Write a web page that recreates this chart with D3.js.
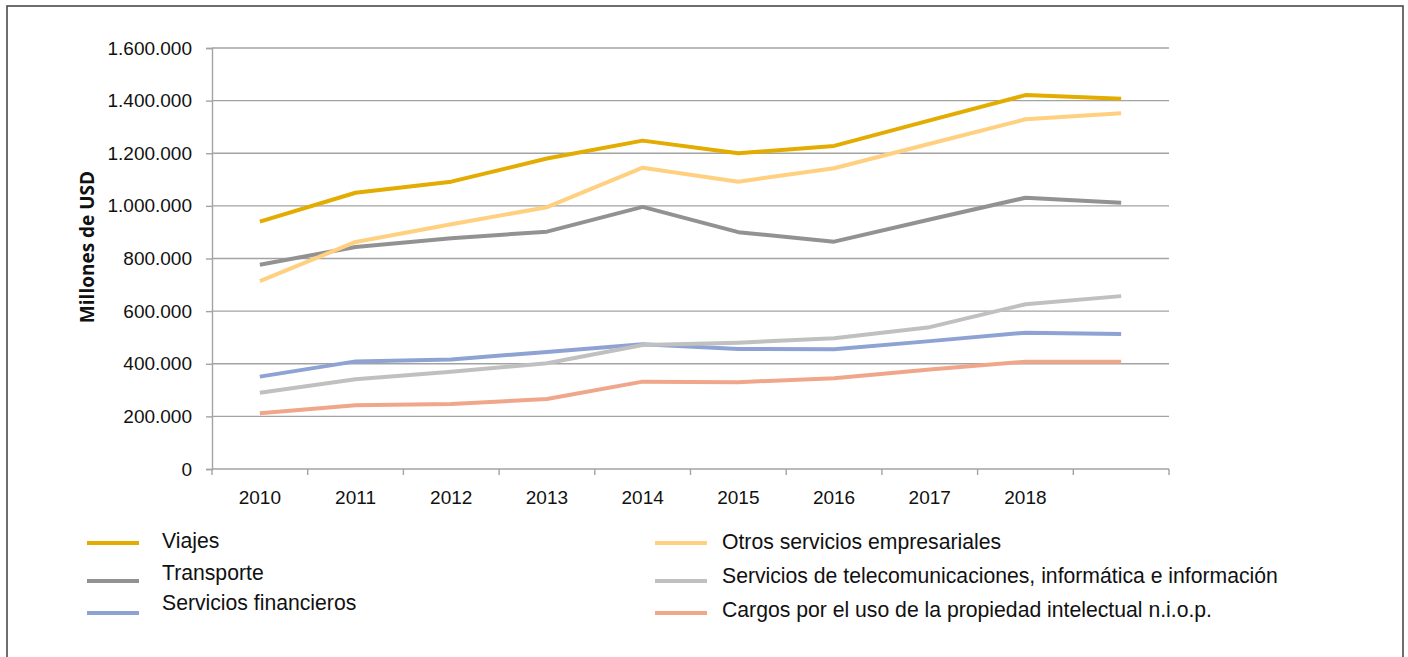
<!doctype html>
<html>
<head>
<meta charset="utf-8">
<title>Exportaciones de servicios</title>
<script src="https://cdn.jsdelivr.net/npm/d3@7"></script>
<style>
  body { margin: 0; background: #fff; }
  svg text { font-family: "Liberation Sans", Arial, sans-serif; fill: #111; }
</style>
</head>
<body>
<svg id="chart" width="1408" height="657"></svg>
<script>
// years on the x axis, last one has no label in the original
const years = [2010, 2011, 2012, 2013, 2014, 2015, 2016, 2017, 2018, 2019];
const yearLabels = ["2010", "2011", "2012", "2013", "2014", "2015", "2016", "2017", "2018", ""];
const yTicks = [0, 200000, 400000, 600000, 800000, 1000000, 1200000, 1400000, 1600000];

// millones de USD
const viajes = [940000, 1050000, 1092000, 1180000, 1248000, 1200000, 1228000, 1325000, 1421000, 1407000];
const transporte = [776000, 844000, 877000, 902000, 996000, 900000, 864000, 948000, 1031000, 1012000];
const financieros = [351000, 409000, 416000, 445000, 474000, 456000, 455000, 486000, 518000, 513000];
const otros = [714000, 863000, 930000, 995000, 1145000, 1092000, 1143000, 1236000, 1329000, 1352000];
const telecom = [290000, 341000, 370000, 402000, 471000, 480000, 497000, 539000, 626000, 657000];
const cargos = [212000, 242000, 247000, 266000, 332000, 330000, 345000, 378000, 408000, 408000];

const seriesNames = ["Viajes", "Transporte", "Servicios financieros",
  "Otros servicios empresariales",
  "Servicios de telecomunicaciones, informática e información",
  "Cargos por el uso de la propiedad intelectual n.i.o.p."];
const seriesValues = [viajes, transporte, financieros, otros, telecom, cargos];
const seriesColors = ["#e2ac00", "#929292", "#8ea2d4", "#ffd080", "#c0c0c0", "#f0a68a"];

const svg = d3.select("#chart");

// outer frame
svg.append("rect")
  .attr("x", 7).attr("y", 6)
  .attr("width", 1396).attr("height", 660)
  .attr("fill", "none")
  .attr("stroke", "#4a4a4a")
  .attr("stroke-width", 1.6);

const x = d3.scaleBand().domain(years).range([212, 1169]);
const y = d3.scaleLinear().domain([0, 1600000]).range([469, 48]);

const fmt = v => v === 0 ? "0" : d3.format(",")(v).replace(/,/g, ".");

// gridlines
svg.append("g")
  .selectAll("line")
  .data(yTicks.filter(d => d > 0))
  .join("line")
  .attr("x1", 212).attr("x2", 1169)
  .attr("y1", d => y(d)).attr("y2", d => y(d))
  .attr("stroke", "#a3a3a3")
  .attr("stroke-width", 1.4);

// y axis
const yAxis = svg.append("g")
  .attr("transform", "translate(212,0)")
  .call(d3.axisLeft(y).tickValues(yTicks).tickFormat(fmt).tickSize(6).tickPadding(14));
yAxis.select(".domain").attr("stroke", "#a3a3a3").attr("stroke-width", 1.4);
yAxis.selectAll(".tick line").attr("stroke", "#a3a3a3").attr("stroke-width", 1.4);
yAxis.selectAll(".tick text")
  .attr("font-size", 19)
  .attr("font-family", "Liberation Sans, Arial, sans-serif")
  .attr("fill", "#111");

// x axis: line, ticks at band edges, labels at centres
svg.append("line")
  .attr("x1", 212).attr("x2", 1169)
  .attr("y1", y(0)).attr("y2", y(0))
  .attr("stroke", "#a3a3a3").attr("stroke-width", 1.4);

const edges = years.map(d => x(d)).concat([x.range()[1]]);
svg.append("g")
  .selectAll("line")
  .data(edges)
  .join("line")
  .attr("x1", d => d).attr("x2", d => d)
  .attr("y1", y(0)).attr("y2", y(0) + 6)
  .attr("stroke", "#a3a3a3").attr("stroke-width", 1.4);

svg.append("g")
  .selectAll("text")
  .data(years)
  .join("text")
  .attr("x", d => x(d) + x.bandwidth() / 2)
  .attr("y", 504)
  .attr("text-anchor", "middle")
  .attr("font-size", 19)
  .text((d, i) => yearLabels[i]);

// y axis title
svg.append("text")
  .attr("transform", "translate(94,247) rotate(-90)")
  .attr("text-anchor", "middle")
  .attr("font-weight", "bold")
  .attr("font-size", 19)
  .style("font-family", "'Open Sans', sans-serif")
  .text("Millones de USD");

// lines
const line = d3.line()
  .x((d, i) => x(years[i]) + x.bandwidth() / 2)
  .y(d => y(d));

svg.append("g")
  .selectAll("path")
  .data(seriesValues)
  .join("path")
  .attr("d", d => line(d))
  .attr("fill", "none")
  .attr("stroke", (d, i) => seriesColors[i])
  .attr("stroke-width", 4)
  .attr("stroke-linejoin", "round");

// legend, two columns of three
const legendPos = [
  { lx: 87, tx: 162, ly: 543, ty: 548 },
  { lx: 87, tx: 162, ly: 581, ty: 580 },
  { lx: 87, tx: 162, ly: 613, ty: 610 },
  { lx: 655, tx: 722, ly: 543, ty: 549 },
  { lx: 655, tx: 722, ly: 581, ty: 583 },
  { lx: 655, tx: 722, ly: 613, ty: 617 }
];

const legend = svg.append("g")
  .selectAll("g")
  .data(seriesNames)
  .join("g");

legend.append("line")
  .attr("x1", (d, i) => legendPos[i].lx)
  .attr("x2", (d, i) => legendPos[i].lx + 52)
  .attr("y1", (d, i) => legendPos[i].ly)
  .attr("y2", (d, i) => legendPos[i].ly)
  .attr("stroke", (d, i) => seriesColors[i])
  .attr("stroke-width", 4);

legend.append("text")
  .attr("x", (d, i) => legendPos[i].tx)
  .attr("y", (d, i) => legendPos[i].ty)
  .attr("font-size", 21.2)
  .text(d => d);
</script>
</body>
</html>
